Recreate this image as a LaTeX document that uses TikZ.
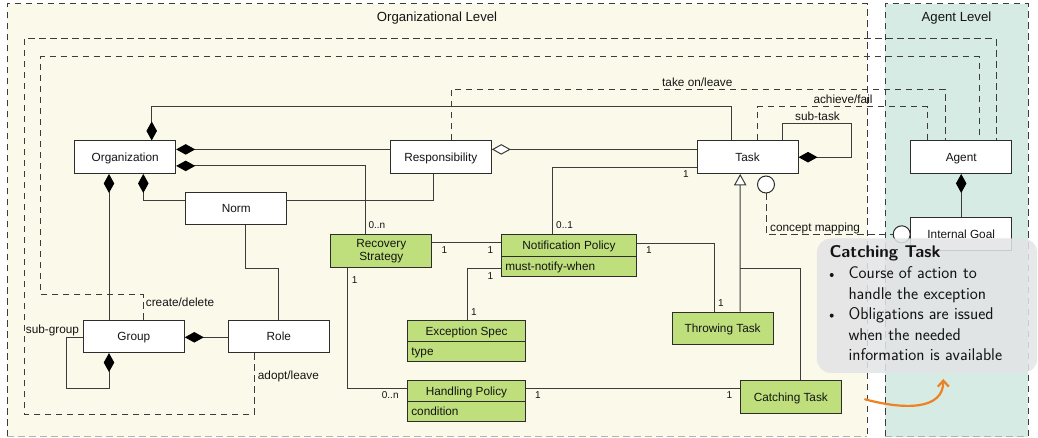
\documentclass[tikz,border=0pt]{standalone}
\usepackage{fontspec}
\newfontfamily\umlfont{Liberation Sans}
\usetikzlibrary{arrows.meta}

\definecolor{orgbg}{RGB}{251,249,234}
\definecolor{agentbg}{RGB}{214,235,228}
\definecolor{greenbox}{RGB}{190,223,123}
\definecolor{boxline}{RGB}{45,45,45}
\definecolor{umlline}{RGB}{60,60,60}
\definecolor{umltext}{RGB}{20,20,20}
\definecolor{notebg}{RGB}{226,228,229}
\definecolor{notetext}{RGB}{20,20,20}
\definecolor{accent}{RGB}{238,130,35}

\tikzset{
  umlfnt/.style={font=\umlfont\fontsize{11.8}{13.3}\selectfont, text=umltext},
  clsbase/.style={umlfnt, draw=boxline, line width=1pt, fill=white,
    minimum width=101pt, minimum height=32.5pt, inner sep=0pt},
  cls/.style={clsbase, text height=8.4pt, text depth=0pt},
  gcls/.style={cls, fill=greenbox},
  ctitle/.style={umlfnt, draw=boxline, line width=1pt, fill=greenbox,
    inner sep=0pt, text height=8.4pt, text depth=0pt},
  cattr/.style={umlfnt, draw=boxline, line width=1pt, fill=greenbox,
    inner xsep=4pt, inner ysep=0pt, align=left, text height=8.4pt, text depth=0pt},
  mult/.style={font=\umlfont\fontsize{10}{12}\selectfont, text=umltext,
    inner sep=0pt, anchor=base west},
  lbl/.style={umlfnt, inner sep=0pt, anchor=base west},
  levelfnt/.style={font=\umlfont\fontsize{13.2}{15}\selectfont, text=umltext,
    inner sep=0pt, anchor=base},
  uml/.style={draw=umlline, line width=1pt},
  dsh/.style={draw=umlline, line width=1pt, dash pattern=on 6.5pt off 4.5pt},
  comp/.style={uml, {Diamond[length=19pt,width=10.5pt,color=black]}-},
  agg/.style={uml, {Diamond[open,length=19pt,width=10.5pt,fill=white]}-},
  gen/.style={uml, {Triangle[open,length=11.5pt,width=12.5pt,fill=white]}-},
  iface/.style={circle, draw=boxline, line width=1pt, fill=white,
    minimum size=17pt, inner sep=0pt},
  region/.style={draw=umlline, line width=1pt, dash pattern=on 6.5pt off 4.5pt},
  regionfoot/.style={draw=black!30, line width=1pt, dash pattern=on 6.5pt off 4.5pt},
  notebox/.style={fill=notebg, fill opacity=0.86, rounded corners=14pt,
    inner sep=0pt, anchor=north west},
  notefnt/.style={font=\sffamily\fontsize{17}{20.7}\selectfont, text=notetext,
    inner sep=0pt, anchor=base west},
  notebullet/.style={circle, fill=notetext, minimum size=4pt, inner sep=0pt},
  hint/.style={draw=accent, line width=2.2pt, line cap=round,
    -{Straight Barb[length=6pt,width=11pt]}},
}

\begin{document}
\begin{tikzpicture}[x=1pt,y=-1pt]
\useasboundingbox (0,0) rectangle (1038,438);

% level areas
\fill[orgbg] (7,4) rectangle (867,436.5);
\draw[region] (7,436.5) -- (7,4) -- (867,4) -- (867,436.5);
\draw[regionfoot] (7,436.5) -- (867,436.5);
\fill[agentbg] (885,4) rectangle (1028,436.5);
\draw[region] (885,436.5) -- (885,4) -- (1028,4) -- (1028,436.5);
\draw[regionfoot] (885,436.5) -- (1028,436.5);
\node[levelfnt] (orglevel) at (437,21.5) {Organizational Level};
\node[levelfnt] (agentlevel) at (956.5,21.5) {Agent Level};

% classes
\node[cls] (org)   at (125.2,157.2) {Organization};
\node[cls] (resp)  at (440.8,157.2) {Responsibility};
\node[cls] (task)  at (747.5,157.2) {Task};
\node[cls] (agent) at (961.2,157.2) {Agent};
\node[cls] (norm)  at (236.2,208.7) {Norm};
\node[cls] (group) at (133.8,336.3) {Group};
\node[cls] (role)  at (278.8,336.3) {Role};
\node[cls] (igoal) at (961.2,234)   {Internal Goal};
\node[clsbase, fill=greenbox, align=center] (recov) at (381.3,251.2) {Recovery\\Strategy};
\node[gcls] (throw) at (722.6,328.3) {Throwing Task};
\node[gcls] (catch) at (790.8,397)   {Catching Task};

\node[ctitle, minimum width=135.4pt, minimum height=22pt] (notif) at (569,245.7) {Notification Policy};
\node[cattr, text width=127.4pt, minimum height=19.3pt] (notifa) at (569,266.35) {must-notify-when};
\node[ctitle, minimum width=118.4pt, minimum height=21.4pt] (exc) at (466.5,331) {Exception Spec};
\node[cattr, text width=110.4pt, minimum height=20pt] (exca) at (466.5,351.7) {type};
\node[ctitle, minimum width=118.4pt, minimum height=21.4pt] (hp) at (466.5,391) {Handling Policy};
\node[cattr, text width=110.4pt, minimum height=20pt] (hpa) at (466.5,411.7) {condition};

\node[iface] (ifA) at (766,184.5) {};
\node[iface] (ifB) at (901.7,234.3) {};

% dashed links towards the agent
\draw[dsh] ([xshift=-24.5pt]role.south) -- (254.3,414) -| (24,38.7) -| ([xshift=34.8pt]agent.north);
\draw[dsh] ([xshift=9.5pt]group.north) -- (143.3,294.5) -| (40.7,57) -| ([xshift=17.8pt]agent.north);
\draw[dsh] ([xshift=10.2pt]resp.north) -- (451,89.3) -| ([xshift=-16.2pt]agent.north);
\draw[dsh] ([xshift=10.2pt]task.north) -- (757.7,106.7) -| ([xshift=-33.5pt]agent.north);
\draw[dsh] (ifA.south) |- (ifB.west);

% associations
\draw[comp] ([xshift=26.5pt]org.north) |- (731.7,106.7) -- ([xshift=-15.8pt]task.north);
\draw[comp] ([yshift=7.8pt]org.east) -- ([yshift=7.8pt]resp.west);
\draw[comp] ([yshift=-8.7pt]org.east) -| ([xshift=-16.3pt]recov.north);
\draw[comp] ([xshift=18.1pt]org.south) |- ([yshift=7.7pt]norm.west);
\draw[comp] ([xshift=-16.2pt]org.south) -- ([xshift=-24.8pt]group.north);
\draw[uml] ([yshift=7.7pt]norm.east) -| ([xshift=-7.5pt]resp.south);
\draw[uml] ([xshift=9.5pt]norm.south) |- (278.8,268.3) -- (role.north);
\draw[comp] ([yshift=-1pt]group.east) -- ([yshift=-1pt]role.west);
\draw[comp] ([xshift=-24.8pt]group.south) -- (109,388.3) -| (66.7,337.3) -- ([yshift=-1pt]group.west);
\draw[agg] ([yshift=7.8pt]resp.east) -- ([yshift=7.8pt]task.west);
\draw[comp] (task.east) -| (851,124) -| ([xshift=35.2pt]task.north);
\draw[uml] ([yshift=-10.3pt]task.west) -| ([xshift=-16.7pt]notif.north);
\draw[gen] ([xshift=-7.3pt]task.south) -- ([xshift=17.6pt]throw.north);
\coordinate (genjoin) at (740.2,269);
\draw[uml] (genjoin) -| ([xshift=9.9pt]catch.north);
\draw[uml] ([yshift=8.5pt]recov.east) -- ([yshift=3pt]notif.west);
\draw[uml] ([xshift=-34pt]recov.south) |- ([yshift=2.7pt]hp.west);
\draw[uml] ([yshift=-2.65pt]notifa.west) -| ([xshift=0.8pt]exc.north);
\draw[uml] ([yshift=2.4pt]notif.east) -| ([xshift=-8.1pt]throw.north);
\draw[uml] ([yshift=2.7pt]hp.east) -- ([yshift=8.7pt]catch.west);
\draw[comp] (agent.south) -- (igoal.north);

% link labels
\node[lbl] (ltake) at (662,86.5) {take on/leave};
\node[lbl] (lach) at (813.3,103.3) {achieve/fail};
\node[lbl] (lsub) at (795,120.7) {sub-task};
\node[lbl] (lmap) at (770,231.7) {concept mapping};
\node[lbl] (lcreate) at (145.7,306.7) {create/delete};
\node[lbl] (lsubg) at (25.7,333.5) {sub-group};
\node[lbl] (ladopt) at (257.7,379) {adopt/leave};

% multiplicities
\node[mult] (m1) at (368.3,228.7) {0..n};
\node[mult] (m2) at (556,228.7) {0..1};
\node[mult] (m3) at (441.3,253.3) {1};
\node[mult] (m4) at (487.3,253.3) {1};
\node[mult] (m5) at (646,253.3) {1};
\node[mult] (m6) at (487.3,279.3) {1};
\node[mult] (m7) at (471,315) {1};
\node[mult] (m8) at (351.7,283.3) {1};
\node[mult] (m9) at (381.7,398.3) {0..n};
\node[mult] (m10) at (535,398.3) {1};
\node[mult] (m11) at (726.5,398.3) {1};
\node[mult] (m12) at (683,178) {1};
\node[mult] (m13) at (718,306.8) {1};

% callout
\node[notebox, minimum width=220.3pt, minimum height=134.4pt] (note) at (816.7,238.3) {};
\node[notefnt] (nhead) at (829.3,257.3) {\bfseries Catching Task};
\node[notebullet] (bul1) at (831.7,275) {};
\node[notebullet] (bul2) at (831.7,315.6) {};
\node[notefnt] (n1) at (848.3,278.3) {Course of action to};
\node[notefnt] (n2) at (848.3,299) {handle the exception};
\node[notefnt] (n3) at (848.3,319.3) {Obligations are issued};
\node[notefnt] (n4) at (848.3,340) {when the needed};
\node[notefnt] (n5) at (848.3,360.7) {information is available};

\coordinate (hintstart) at (865,399.3);
\coordinate (hintend) at (943.3,379);
\draw[hint] (hintstart) .. controls (905,410) and (943.3,410) .. (hintend);
\end{tikzpicture}
\end{document}
